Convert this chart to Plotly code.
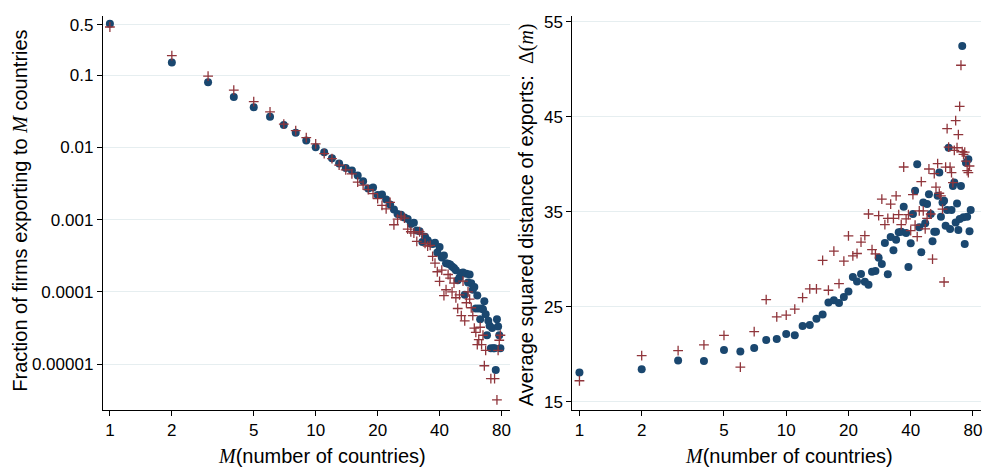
import plotly.graph_objects as go

# ---------------- data ----------------
M_left = list(range(1, 80))          # number of countries, left panel
frac_data = [0.515, 0.150, 0.080, 0.050, 0.036, 0.0266, 0.0205, 0.0160, 0.0125, 0.0101,
             0.0086, 0.0071, 0.0060, 0.0052, 0.0048, 0.0041, 0.0034, 0.0027, 0.0028, 0.0022,
             0.00224, 0.0019, 0.00162, 0.00138, 0.0012, 0.00117, 0.00107, 0.00102, 0.00087, 0.00091,
             0.00071, 0.00069, 0.00049, 0.00058, 0.00052, 0.00047, 0.00046, 0.00048, 0.00035, 0.00042,
             0.00030, 0.00032, 0.00025, 0.000245, 0.00024, 0.000224, 0.000214, 0.00020, 0.000145, 0.000158,
             0.000182, 0.000186, 0.000091, 0.000178, 0.000135, 0.000174, 0.000132, 0.000107, 0.000117, 0.0000589,
             0.0000891, 0.0000589, 0.0000417, 0.0000589, 0.0000575, 0.0000741, 0.000049, 0.0000251, 0.0000398, 0.0000339,
             0.0000166, 0.0000316, 0.0000166, 0.0000166, 0.0000083, 0.0000417, 0.0000331, 0.0000251, 0.0000166]
frac_model = [0.465, 0.187, 0.097, 0.062, 0.043, 0.031, 0.021, 0.0171, 0.0137, 0.0112,
              0.0082, 0.0070, 0.0057, 0.0049, 0.0043, 0.0033, 0.0030, 0.0026, 0.0023, 0.00195,
              0.00158, 0.00141, 0.00174, 0.00085, 0.00102, 0.00112, 0.00105, 0.00074, 0.00068, 0.00065,
              0.00050, 0.00068, 0.00063, 0.00047, 0.00043, 0.00044, 0.00031, 0.00025, 0.00019, 0.00014,
              0.00020, 0.000089, 0.000107, 0.000174, 0.000155, 0.00010, 0.000132, 0.000083, 0.0000589, 0.000091,
              0.0000468, 0.000141, 0.0000398, 0.0000708, 0.00010, 0.0000794, 0.0000603, 0.0000468, 0.0000316, 0.0000275,
              0.0000186, 0.0000219, 0.0000324, 0.0000186, 0.0000251, 0.0000095, 0.0000155, None, None, None,
              0.0000063, None, None, 0.0000063, None, 0.0000032, 0.0000155, 0.0000214, 0.0000251]

M_right_data = list(range(1, 79))
dist_data = [18.07, 18.42, 19.33, 19.29, 20.44, 20.27, 20.65, 21.49, 21.60, 22.12,
             21.98, 22.96, 23.06, 23.72, 24.18, 25.44, 25.68, 25.40, 26.03, 26.60,
             28.12, 27.65, 28.45, 27.62, 27.30, 28.67, 28.77, 30.15, 29.50, 31.70,
             28.42, 32.35, 30.95, 32.05, 32.84, 32.90, 35.52, 32.75, 29.17, 31.68,
             34.76, 37.20, 39.99, 33.36, 30.74, 35.98, 33.78, 35.81, 36.85, 34.76,
             31.89, 32.90, 32.90, 36.68, 39.12, 34.48, 35.98, 36.15, 33.53, 35.18,
             41.74, 33.18, 35.18, 37.72, 38.07, 33.88, 35.87, 33.08, 34.24, 37.72,
             52.45, 34.41, 31.61, 40.16, 34.48, 40.52, 32.94, 35.18]
M_right_model = list(range(1, 78))
dist_model = [17.20, 19.85, 20.37, 20.97, 21.98, 18.63, 22.37, 25.75, 23.93, 24.11,
              24.74, 25.96, 26.87, 26.87, 29.87, 26.73, 30.85, 27.43, 29.80, 32.45,
              30.35, 30.60, 31.79, 32.49, 34.76, 31.00, 30.57, 34.59, 36.33, 33.64,
              34.30, 35.81, 34.30, 36.68, 34.69, 33.64, 39.71, 34.24, 34.70, 33.01,
              36.80, 33.60, 32.38, 35.10, 38.17, 35.10, 33.20, 34.30, 39.50, 34.76,
              30.00, 39.01, 37.60, 40.06, 36.95, 36.68, 35.28, 27.60, 39.70, 43.76,
              41.81, 39.70, 39.12, 38.07, 41.46, 44.60, 41.74, 43.13, 46.10, 50.43,
              41.32, 41.04, 41.28, 40.34, 39.33, 39.12, 39.82]

x_ticks = [1, 2, 5, 10, 20, 40, 80]
x_ticktext = ["1", "2", "5", "10", "20", "40", "80"]
yl_ticks = [0.5, 0.1, 0.01, 0.001, 0.0001, 0.00001]
yl_ticktext = ["0.5", "0.1", "0.01", "0.001", "0.0001", "0.00001"]
yr_ticks = [15, 25, 35, 45, 55]

# ---------------- styling ----------------
NAVY = "#1a476f"
MAROON = "#90353b"
GRID = "#e6eef0"
FONT = "Liberation Sans"
SERIF = "Liberation Serif"
W, H = 983, 469

fig = go.Figure()
dot = dict(symbol="circle", size=8, color=NAVY, line=dict(width=0))
plus = dict(symbol="cross-thin", size=7, color=MAROON, line=dict(width=1.3, color=MAROON))

fig.add_trace(go.Scatter(x=M_left, y=frac_data, mode="markers", marker=dot,
                         xaxis="x", yaxis="y", showlegend=False))
fig.add_trace(go.Scatter(x=M_left, y=frac_model, mode="markers", marker=plus,
                         xaxis="x", yaxis="y", showlegend=False))
fig.add_trace(go.Scatter(x=M_right_data, y=dist_data, mode="markers", marker=dot,
                         xaxis="x2", yaxis="y2", showlegend=False))
fig.add_trace(go.Scatter(x=M_right_model, y=dist_model, mode="markers", marker=plus,
                         xaxis="x2", yaxis="y2", showlegend=False))

ydom = [1 - 411 / H, 1 - 13 / H]
common_x = dict(type="log", showline=True, linecolor="black", linewidth=1.3,
                ticks="outside", ticklen=5, tickwidth=1.2, tickcolor="black",
                tickvals=x_ticks, ticktext=x_ticktext, showgrid=False, zeroline=False,
                tickfont=dict(family=FONT, size=17, color="black"))
common_y = dict(showline=True, linecolor="black", linewidth=1.3,
                ticks="outside", ticklen=5, tickwidth=1.2, tickcolor="black",
                showgrid=True, gridcolor=GRID, gridwidth=1, zeroline=False,
                tickfont=dict(family=FONT, size=17, color="black"), domain=ydom)

fig.update_layout(
    width=W, height=H, margin=dict(l=0, r=0, t=0, b=0),
    paper_bgcolor="white", plot_bgcolor="white",
    font=dict(family=FONT, color="black"),
    xaxis=dict(common_x, domain=[103 / W, 511 / W], range=[-0.034, 1.9466], anchor="y"),
    yaxis=dict(common_y, type="log", range=[-5.63, -0.178], tickvals=yl_ticks,
               ticktext=yl_ticktext, anchor="x"),
    xaxis2=dict(common_x, domain=[573 / W, 982 / W], range=[-0.034, 1.942], anchor="y2"),
    yaxis2=dict(common_y, range=[14.16, 55.63], tickvals=yr_ticks, anchor="x2"),
)

mi = f"<span style='font-family:{SERIF}'><i>M</i></span>"
title_font = dict(family=FONT, size=20, color="black")
ann = [
    dict(text=f"Fraction of firms exporting to {mi} countries", x=20 / W, y=1 - 210 / H,
         textangle=-90),
    dict(text=f"Average squared distance of exports:  <span style='font-family:{SERIF}'>Δ(<i>m</i>)</span>",
         x=527 / W, y=1 - 214 / H, textangle=-90),
    dict(text=f"{mi}(number of countries)", x=322 / W, y=1 - 458 / H),
    dict(text=f"{mi}(number of countries)", x=790 / W, y=1 - 458 / H),
]
for a in ann:
    fig.add_annotation(xref="paper", yref="paper", showarrow=False, font=title_font,
                       xanchor="center", yanchor="middle", **a)

fig.write_html("out.html", config={"displayModeBar": False},
               post_script="document.body.style.margin='0';document.body.style.padding='0';")
